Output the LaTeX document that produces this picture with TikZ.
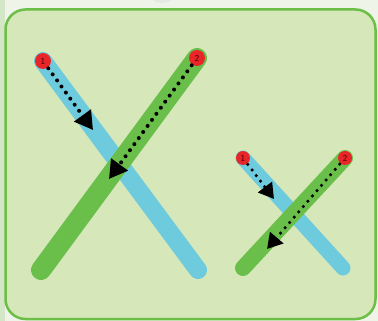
\documentclass[tikz,border=0pt]{standalone}
\usetikzlibrary{arrows.meta}
\definecolor{outerbg}{HTML}{EEF4E8}
\definecolor{stripbg}{HTML}{D3E6C6}
\definecolor{boxbg}{HTML}{D6E7BA}
\definecolor{boxline}{HTML}{6CBF46}
\definecolor{barblue}{HTML}{6DCBDD}
\definecolor{bargreen}{HTML}{6ABE4A}
\definecolor{dotred}{HTML}{E8262A}
\tikzset{
  bluebar/.style={draw=barblue,line cap=round},
  greenbar/.style={draw=bargreen,line cap=round},
  numdot/.style={circle,fill=dotred,inner sep=0pt,text=black!75!red,font=\sffamily\fontsize{9}{9}\selectfont},
  movearrow/.style={draw=black,line width=4pt,line cap=round,dash pattern=on 0pt off 7.5pt,
    -{Triangle[length=18pt,width=20pt,line cap=butt]}, shorten <=9pt},
  smallarrow/.style={draw=black,line width=3.5pt,line cap=round,dash pattern=on 0pt off 7pt,
    -{Triangle[length=15pt,width=17pt,line cap=butt]}, shorten <=8pt}
}
\begin{document}
\begin{tikzpicture}[x=1pt,y=-1pt]
\useasboundingbox (0,0) rectangle (378,321);
\fill[outerbg] (0,0) rectangle (378,321);
\fill[stripbg] (0,0) rectangle (5,321);
\fill[gray!25,opacity=0.5] (162,-6) ellipse (13pt and 9pt);
\draw[boxline,line width=2.5pt,fill=boxbg,rounded corners=20pt] (5.5,9.5) rectangle (375.5,319);
% big X
\coordinate (b1s) at (43,61);
\coordinate (b1e) at (198,270);
\coordinate (g1s) at (197,58);
\coordinate (g1e) at (41,270);
\draw[bluebar,line width=18pt] (b1s) -- (b1e);
\draw[greenbar,line width=20pt] (g1s) -- (g1e);
\node[numdot,minimum size=16pt] (n1) at (b1s) {1};
\node[numdot,minimum size=16pt] (n2) at (g1s) {2};
\coordinate (a1) at (93,130);
\coordinate (a2) at (109,179);
\draw[movearrow] (n1.center) -- (a1);
\draw[movearrow] (n2.center) -- (a2);
% small X
\coordinate (b2s) at (243,158);
\coordinate (b2e) at (343,268);
\coordinate (g2s) at (345,158);
\coordinate (g2e) at (243,268);
\draw[bluebar,line width=15pt] (b2s) -- (b2e);
\draw[greenbar,line width=16pt] (g2s) -- (g2e);
\node[numdot,minimum size=14pt] (m1) at (b2s) {1};
\node[numdot,minimum size=14pt] (m2) at (g2s) {2};
\coordinate (c1) at (274,199);
\coordinate (c2) at (267,249);
\draw[smallarrow] (m1.center) -- (c1);
\draw[smallarrow] (m2.center) -- (c2);
\end{tikzpicture}
\end{document}
